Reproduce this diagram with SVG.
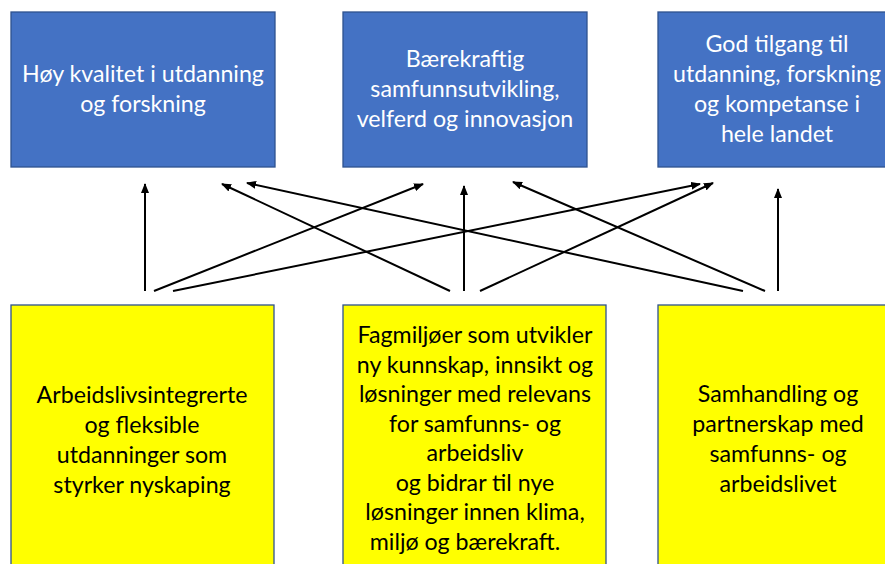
<svg xmlns="http://www.w3.org/2000/svg" width="885" height="564" viewBox="0 0 885 564">
<style>
.blue{fill:#4472C4;stroke:#2F528F;stroke-width:1.3}
.yel{fill:#FFFF00;stroke:#2F528F;stroke-width:1.3}
.wt{font-family:Lato,"Liberation Sans",sans-serif;font-size:23.2px;fill:#FFFFFF;text-anchor:middle}
.bt{font-family:Lato,"Liberation Sans",sans-serif;font-size:23.2px;fill:#000000;text-anchor:middle}
.c{stroke:#000;stroke-width:2;fill:none;marker-end:url(#ah)}
</style>
<defs>
<marker id="ah" markerUnits="userSpaceOnUse" markerWidth="10" markerHeight="8" refX="9" refY="4" orient="auto">
<path d="M0,0 L10,4 L0,8 z" fill="#000"/>
</marker>
</defs>
<rect width="885" height="564" fill="#FFFFFF"/>
<g id="top1"><rect class="blue" x="11" y="12" width="264" height="155"/>
<text class="wt"><tspan x="143" y="82">Høy kvalitet i utdanning</tspan><tspan x="143" y="112">og forskning</tspan></text></g>
<g id="top2"><rect class="blue" x="343" y="12" width="244" height="155"/>
<text class="wt"><tspan x="465" y="67">Bærekraftig</tspan><tspan x="465" y="97">samfunnsutvikling,</tspan><tspan x="465" y="127">velferd og innovasjon</tspan></text></g>
<g id="top3"><rect class="blue" x="658" y="12" width="238" height="155"/>
<text class="wt"><tspan x="777" y="52">God tilgang til</tspan><tspan x="777" y="82">utdanning, forskning</tspan><tspan x="777" y="112">og kompetanse i</tspan><tspan x="777" y="142">hele landet</tspan></text></g>
<g id="bot1"><rect class="yel" x="11" y="305" width="263" height="270"/>
<text class="bt"><tspan x="142" y="403">Arbeidslivsintegrerte</tspan><tspan x="142" y="433">og fleksible</tspan><tspan x="142" y="463">utdanninger som</tspan><tspan x="142" y="493">styrker nyskaping</tspan></text></g>
<g id="bot2"><rect class="yel" x="343" y="305" width="263" height="270"/>
<text class="bt"><tspan x="475" y="343">Fagmiljøer som utvikler</tspan><tspan x="475" y="372.5">ny kunnskap, innsikt og</tspan><tspan x="475" y="402">løsninger med relevans</tspan><tspan x="475" y="431.5">for samfunns- og</tspan><tspan x="475" y="461">arbeidsliv</tspan><tspan x="475" y="490.5">og bidrar til nye</tspan><tspan x="475" y="520">løsninger innen klima,</tspan><tspan x="465" y="549.5">miljø og bærekraft.</tspan></text></g>
<g id="bot3"><rect class="yel" x="658" y="305" width="240" height="270"/>
<text class="bt"><tspan x="778" y="402">Samhandling og</tspan><tspan x="778" y="432">partnerskap med</tspan><tspan x="778" y="462">samfunns- og</tspan><tspan x="778" y="492">arbeidslivet</tspan></text></g>
<g id="connectors">
<line class="c" x1="145" y1="291" x2="145" y2="184"/>
<line class="c" x1="154" y1="291" x2="423" y2="184"/>
<line class="c" x1="173" y1="291" x2="700" y2="184"/>
<line class="c" x1="450" y1="291" x2="222" y2="184"/>
<line class="c" x1="464" y1="291" x2="464" y2="186"/>
<line class="c" x1="480" y1="291" x2="713" y2="183"/>
<line class="c" x1="743" y1="291" x2="247" y2="183"/>
<line class="c" x1="765" y1="291" x2="513" y2="182"/>
<line class="c" x1="778" y1="291" x2="778" y2="189"/>
</g>
</svg>
